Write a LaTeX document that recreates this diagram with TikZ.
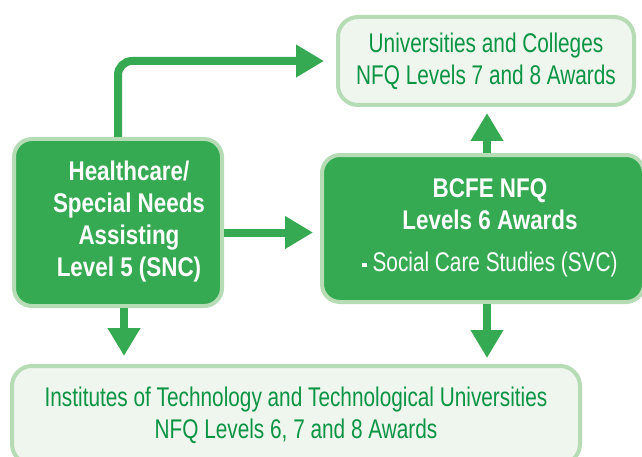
\documentclass[tikz,border=0pt]{standalone}
\usepackage{fontspec}
\setmainfont[FakeStretch=0.77, BoldFeatures={FakeStretch=0.83}]{Liberation Sans}
\usepackage{xcolor}
\usetikzlibrary{arrows.meta, positioning, calc}

\definecolor{darkgrn}{HTML}{35AA52}
\definecolor{txtgrn}{HTML}{0B9444}
\definecolor{edgegrn}{HTML}{B5DCB5}
\definecolor{palegrn}{HTML}{EEF6EE}

\newcommand{\sqbullet}{\raisebox{2.5pt}{\rule{2.2pt}{2.2pt}}}

\begin{document}
\begin{tikzpicture}[
  x=0.5pt, y=0.5pt,
  darkblock/.style={rectangle, rounded corners=9pt, draw=edgegrn, fill=darkgrn,
                    line width=2pt, text=white,
                    font=\fontsize{13.5}{16}\selectfont},
  paleblock/.style={rectangle, rounded corners=10pt, draw=edgegrn, fill=palegrn,
                    line width=2pt, align=center, text=txtgrn,
                    font=\fontsize{13.5}{16}\selectfont},
  flow/.style={-{Triangle[width=15.5pt, length=14pt]}, line width=4pt, draw=darkgrn}
]
\useasboundingbox (0,0) rectangle (642,456);

% Left: entry course
\node[darkblock, font=\fontsize{13.5}{16}\selectfont\bfseries,
      minimum width=104pt, minimum height=83.5pt] (snc) at (118, 233.5)
  {\hspace*{11pt}\begin{tabular}{@{}c@{}}Healthcare/\\Special Needs\\Assisting\\Level 5 (SNC)\end{tabular}};

% Right column: BCFE and universities
\node[paleblock, minimum width=148pt, minimum height=44pt] (uni) at (486, 395)
  {Universities and Colleges\\NFQ Levels 7 and 8 Awards};
\node[darkblock, minimum width=161pt, minimum height=73.5pt] (bcfe) at (483, 227.5)
  {\hspace*{7pt}\begin{tabular}{@{}c@{}}\bfseries BCFE NFQ\\\bfseries Levels 6 Awards\\[5pt]\sqbullet\ Social Care Studies (SVC)\end{tabular}};

% Bottom: institutes of technology
\node[paleblock, minimum width=284pt, minimum height=49pt] (itu) at (296, 41)
  {Institutes of Technology and Technological Universities\\NFQ Levels 6, 7 and 8 Awards};

% --- Arrows ---
% SNC -> universities (up and across)
\draw[flow, rounded corners=7pt, shorten >=6pt] (snc.north) |- (uni.west);

% SNC -> BCFE
\draw[flow, shorten >=3.5pt] ([yshift=-5pt]snc.east) -- ([yshift=-5pt]snc.east -| bcfe.west);

% BCFE -> universities
\draw[flow, shorten >=3pt] ([xshift=2pt]bcfe.north) -- ([xshift=2pt]bcfe.north |- uni.south);

% SNC -> institutes
\draw[flow, shorten >=4pt] ([xshift=3pt]snc.south) -- ([xshift=3pt]snc.south |- itu.north);

% BCFE -> institutes
\draw[flow, shorten >=3pt] ([xshift=2pt]bcfe.south) -- ([xshift=2pt]bcfe.south |- itu.north);

\end{tikzpicture}
\end{document}
